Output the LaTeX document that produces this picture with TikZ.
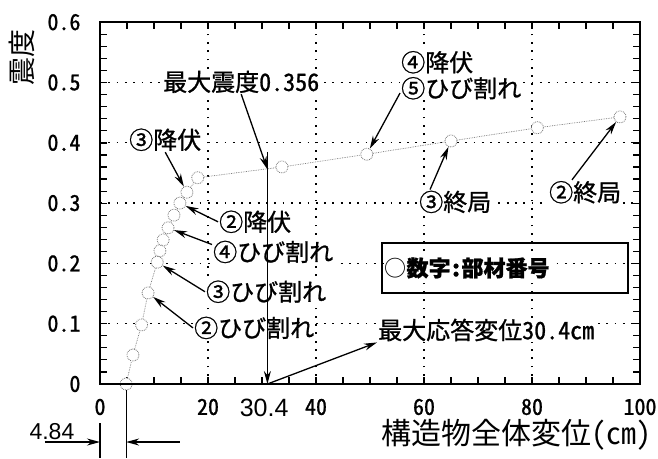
\documentclass[tikz,border=0pt]{standalone}
\usepackage{fontspec}
\setmainfont{Liberation Sans}
\newfontfamily\cjk[RawFeature=+hwid,FakeBold=1]{Noto Sans CJK JP}
\newfontfamily\cjkthin[RawFeature=+hwid]{Noto Sans CJK JP}
\usetikzlibrary{arrows.meta}
\usetikzlibrary{calc}
\tikzset{
	grid line/.style={line width=1.3pt, dash pattern=on 1.8pt off 6.5pt},
	frame/.style={line width=1.6pt},
	axtick/.style={line width=1.2pt},
	sample/.style={circle, draw=black!55, densely dotted, line width=0.8pt, fill=white, minimum size=12pt, inner sep=0pt},
	curve/.style={black!55, densely dotted, line width=0.7pt},
	lbl/.style={font=\cjk\fontsize{24}{26}\selectfont, fill=white, inner sep=1pt, anchor=west},
	axlbl/.style={font=\cjk\fontsize{22}{22}\selectfont},
	arr/.style={line width=1.3pt, -{Stealth[length=13pt,width=7pt]}},
}
\begin{document}
\begin{tikzpicture}[x=5.4pt,y=603pt]
		\useasboundingbox (-18.5185,-0.12272) rectangle (103.3333,0.63682);
		% grid
		\foreach \y in {0.1,0.2,0.3,0.4,0.5}
			\draw[grid line] (0,\y) -- (100,\y);
		\foreach \x in {20,40,60,80}
			\draw[grid line] (\x,0) -- (\x,0.6);
		% ticks
		\foreach \x in {5,10,...,95} {
			\draw[axtick] (\x,0) -- ++(0,7pt);
			\draw[axtick] (\x,0.6) -- ++(0,-7pt);
		}
		\foreach \y in {0.02,0.04,...,0.59} {
			\draw[axtick] (0,\y) -- ++(7pt,0);
			\draw[axtick] (100,\y) -- ++(-7pt,0);
		}
		% tick labels
		\foreach \y in {0,0.1,0.2,0.3,0.4,0.5,0.6}
			\node[axlbl, anchor=east, xshift=-16pt] at (0,\y) {\y};
		\foreach \x in {0,20,40,60,80,100}
			\node[axlbl, yshift=-23pt] at (\x,0) {\x};
		\node[font=\fontsize{25}{26}\selectfont] (l304) at (30.4,-0.0398) {30.4};
		\node[font=\cjkthin\fontsize{28}{28}\selectfont, rotate=90] (ytitle) at (-14.44,0.542) {震度};
		\node[font=\cjkthin\fontsize{30}{30}\selectfont, anchor=east] (xtitle) at (102.8,-0.0846) {構造物全体変位(cm)};
		% samples
		\foreach \x/\y [count=\i] in {4.84/0, 6.1/0.048, 7.7/0.098, 8.9/0.151, 10.6/0.202, 11.1/0.221, 11.7/0.239, 12.6/0.259, 13.7/0.280, 14.8/0.300, 16.1/0.318, 18.1/0.342, 33.7/0.360, 49.4/0.381, 65/0.403, 81/0.425, 96.3/0.443}
			\node[sample] (p\i) at (\x,\y) {};
		\foreach \i [count=\k from 2] in {1,...,16}
			\draw[curve] (p\i) -- (p\k);
		% labels
		\node[lbl] (lmax) at (11.48,0.501) {最大震度0.356};
		\node[lbl] (l3y) at (5.19,0.405) {③降伏};
		\node[lbl] (l2y) at (21.85,0.269) {②降伏};
		\node[lbl] (l4c) at (20.74,0.219) {④ひび割れ};
		\node[lbl] (l3c) at (19.44,0.153) {③ひび割れ};
		\node[lbl] (l2c) at (17.22,0.093) {②ひび割れ};
		\node[lbl, align=left] (l45) at (55.56,0.512) {④降伏\\⑤ひび割れ};
		\node[lbl] (l3u) at (58.9,0.302) {③終局};
		\node[lbl] (l2u) at (82.96,0.318) {②終局};
		\node[lbl] (ldisp) at (51.3,0.0896) {最大応答変位30.4cm};
		\node[draw, line width=1.3pt, minimum width=246pt, minimum height=50pt, inner sep=0pt] (leg) at (75,0.1924) {};
		\node[lbl, font=\cjk\fontsize{22}{24}\selectfont] (legtxt) at ([xshift=2pt]leg.west) {{\cjkthin ○}{\bfseries 数字:部材番号}};
		% arrows to samples
		\draw[arr] (l3y.south) -- (p11);
		\draw[arr] (l2y.west) -- (p10);
		\draw[arr] ($(l4c.west)!0.6!(l4c.north west)$) -- (p8);
		\draw[arr] (l3c.west) -- (p5);
		\draw[arr] (l2c.west) -- (p4);
		\draw[arr] ($(l45.west)!0.7!(l45.south west)$) -- (p14);
		\draw[arr] ([xshift=12pt]l3u.north west) -- (p15);
		\draw[arr] ([xshift=24pt]l2u.north west) -- (p17);
		% maximum response
		\coordinate (mtop) at (31,0.385);
		\coordinate (mpk) at (31,0.356);
		\coordinate (mbot) at (31,0);
		\draw[arr] (mtop) -- (mbot);
		\draw[arr] (lmax.south) -- (mpk);
		\draw[arr] (mbot) -- (ldisp.south west);
		% frame
		\draw[frame] (0,0) rectangle (100,0.6);
		% initial offset
		\coordinate (z0) at (0,-0.0647);
		\coordinate (zb) at (0,-0.1227);
		\coordinate (ua) at (-10.19,-0.0962);
		\coordinate (ub) at (14.81,-0.0962);
		\draw[line width=1.2pt] (z0) -- (zb);
		\draw[line width=1.2pt] (p1) -- (p1 |- zb);
		\draw[arr] (ua) -- (ua -| z0);
		\draw[arr] (ub) -- (ub -| p1);
		\node[font=\fontsize{23}{24}\selectfont] (l484) at (-8.9,-0.0796) {4.84};
	\end{tikzpicture}
\end{document}
